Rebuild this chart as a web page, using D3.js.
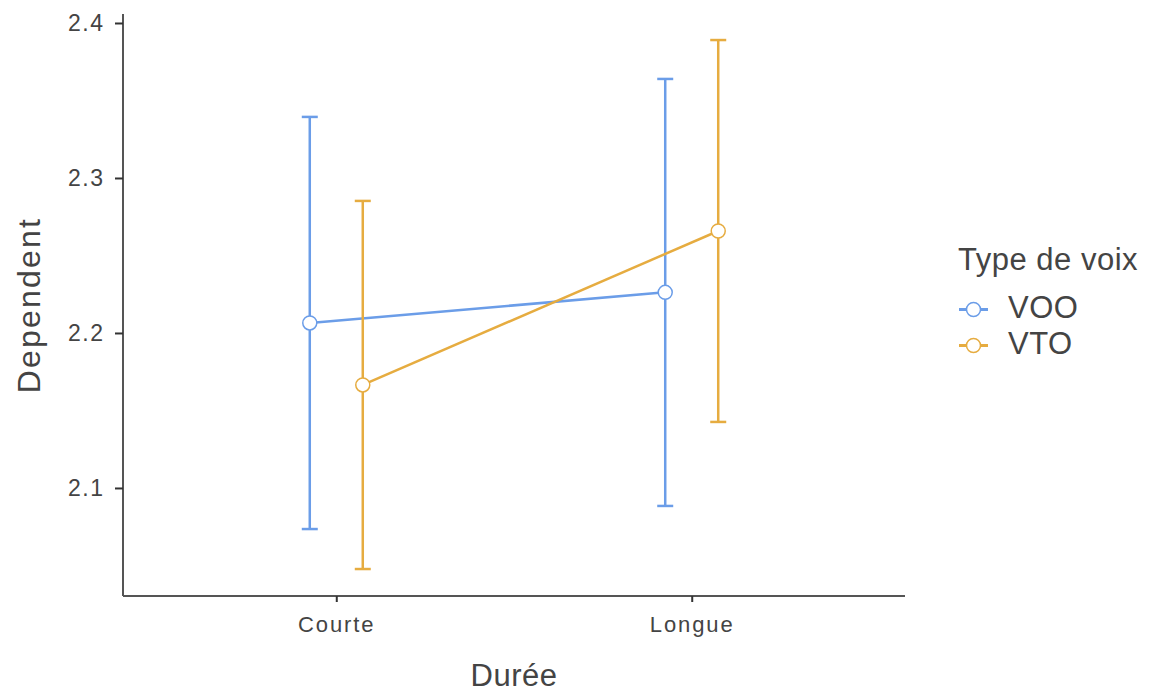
<!DOCTYPE html>
<html>
<head>
<meta charset="utf-8">
<script src="https://cdn.jsdelivr.net/npm/d3@7"></script>
<style>
  body { margin: 0; background: #fff; }
  text { font-family: "Liberation Sans", Arial, sans-serif; }
</style>
</head>
<body>
<div id="chart"></div>
<script>
// data
var durations = ["Courte", "Longue"];
var voices = ["VOO", "VTO"];
var colors = ["#6B9DE8", "#E6AC40"];
var means = {
    VOO: [2.2065, 2.2262],
    VTO: [2.1665, 2.2658]
};
var upper = {
    VOO: [2.3394, 2.3639],
    VTO: [2.2852, 2.3890]
};
var lower = {
    VOO: [2.0735, 2.0884],
    VTO: [2.0477, 2.1426]
};
var yTicks = [2.1, 2.2, 2.3, 2.4];

var width = 1157, height = 693;
var plotLeft = 123, plotRight = 905, plotTop = 14, plotBottom = 596;

var svg = d3.select("#chart").append("svg")
    .attr("width", width)
    .attr("height", height);

var x = d3.scalePoint().domain(durations).range([plotLeft, plotRight]).padding(0.6);
var dodge = d3.scalePoint().domain(voices).range([-26.5, 26.5]);
var y = d3.scaleLinear().domain([2.0303, 2.4058]).range([plotBottom, plotTop]);
var color = d3.scaleOrdinal().domain(voices).range(colors);

// axes
var yAxis = svg.append("g")
    .attr("transform", "translate(" + plotLeft + ",0)")
    .call(d3.axisLeft(y).tickValues(yTicks).tickFormat(d3.format(".1f")).tickSize(8).tickPadding(10.5));
yAxis.select(".domain").attr("d", "M0," + plotTop + "V" + plotBottom);

var xAxis = svg.append("g")
    .attr("transform", "translate(0," + plotBottom + ")")
    .call(d3.axisBottom(x).tickSize(6).tickPadding(14));
xAxis.select(".domain").attr("d", "M" + plotLeft + ",0H" + plotRight);

svg.selectAll(".domain").style("stroke", "#555").style("stroke-width", 2);
svg.selectAll(".tick line").style("stroke", "#333").style("stroke-width", 2);
yAxis.selectAll(".tick text")
    .style("font-size", "23px").style("fill", "#444").style("letter-spacing", "1.5px");
xAxis.selectAll(".tick text")
    .style("font-size", "22px").style("fill", "#444").style("letter-spacing", "1.9px");

// axis titles
svg.append("text")
    .attr("x", (plotLeft + plotRight) / 2)
    .attr("y", 686)
    .attr("text-anchor", "middle")
    .style("font-size", "31px")
    .style("letter-spacing", "0.5px")
    .style("fill", "#444")
    .text("Durée");

svg.append("text")
    .attr("transform", "translate(40," + ((plotTop + plotBottom) / 2) + ") rotate(-90)")
    .attr("text-anchor", "middle")
    .style("font-size", "32px")
    .style("letter-spacing", "2.2px")
    .style("fill", "#444")
    .text("Dependent");

// lines between means
var line = d3.line()
    .x(function(d) { return x(d.dur) + dodge(d.voice); })
    .y(function(d) { return y(d.mean); });

voices.forEach(function(v) {
    var pts = durations.map(function(dur, i) {
        return { dur: dur, voice: v, mean: means[v][i], hi: upper[v][i], lo: lower[v][i] };
    });
    var g = svg.append("g");
    g.append("path")
        .datum(pts)
        .attr("d", line)
        .style("fill", "none")
        .style("stroke", color(v))
        .style("stroke-width", 2.5);

    pts.forEach(function(p) {
        var cx = x(p.dur) + dodge(v);
        g.append("line")
            .attr("x1", cx).attr("x2", cx)
            .attr("y1", y(p.hi)).attr("y2", y(p.lo))
            .style("stroke", color(v)).style("stroke-width", 2.5);
        [p.hi, p.lo].forEach(function(e) {
            g.append("line")
                .attr("x1", cx - 8).attr("x2", cx + 8)
                .attr("y1", y(e)).attr("y2", y(e))
                .style("stroke", color(v)).style("stroke-width", 2.5);
        });
    });

    g.selectAll("circle")
        .data(pts)
        .enter().append("circle")
        .attr("cx", function(d) { return x(d.dur) + dodge(v); })
        .attr("cy", function(d) { return y(d.mean); })
        .attr("r", 7)
        .style("fill", "#fff")
        .style("stroke", color(v))
        .style("stroke-width", 1.5);
});

// legend
var legend = svg.append("g");
legend.append("text")
    .attr("x", 958)
    .attr("y", 270)
    .style("font-size", "31px")
    .style("letter-spacing", "0.5px")
    .style("fill", "#444")
    .text("Type de voix");

voices.forEach(function(v, i) {
    var cy = 309.5 + i * 36;
    legend.append("line")
        .attr("x1", 959).attr("x2", 988)
        .attr("y1", cy).attr("y2", cy)
        .style("stroke", color(v)).style("stroke-width", 3);
    legend.append("circle")
        .attr("cx", 973.5).attr("cy", cy).attr("r", 7)
        .style("fill", "#fff").style("stroke", color(v)).style("stroke-width", 1.5);
    legend.append("text")
        .attr("x", 1008)
        .attr("y", cy + 8.5)
        .style("font-size", "31px")
        .style("letter-spacing", "0.5px")
        .style("fill", "#444")
        .text(v);
});
</script>
</body>
</html>
